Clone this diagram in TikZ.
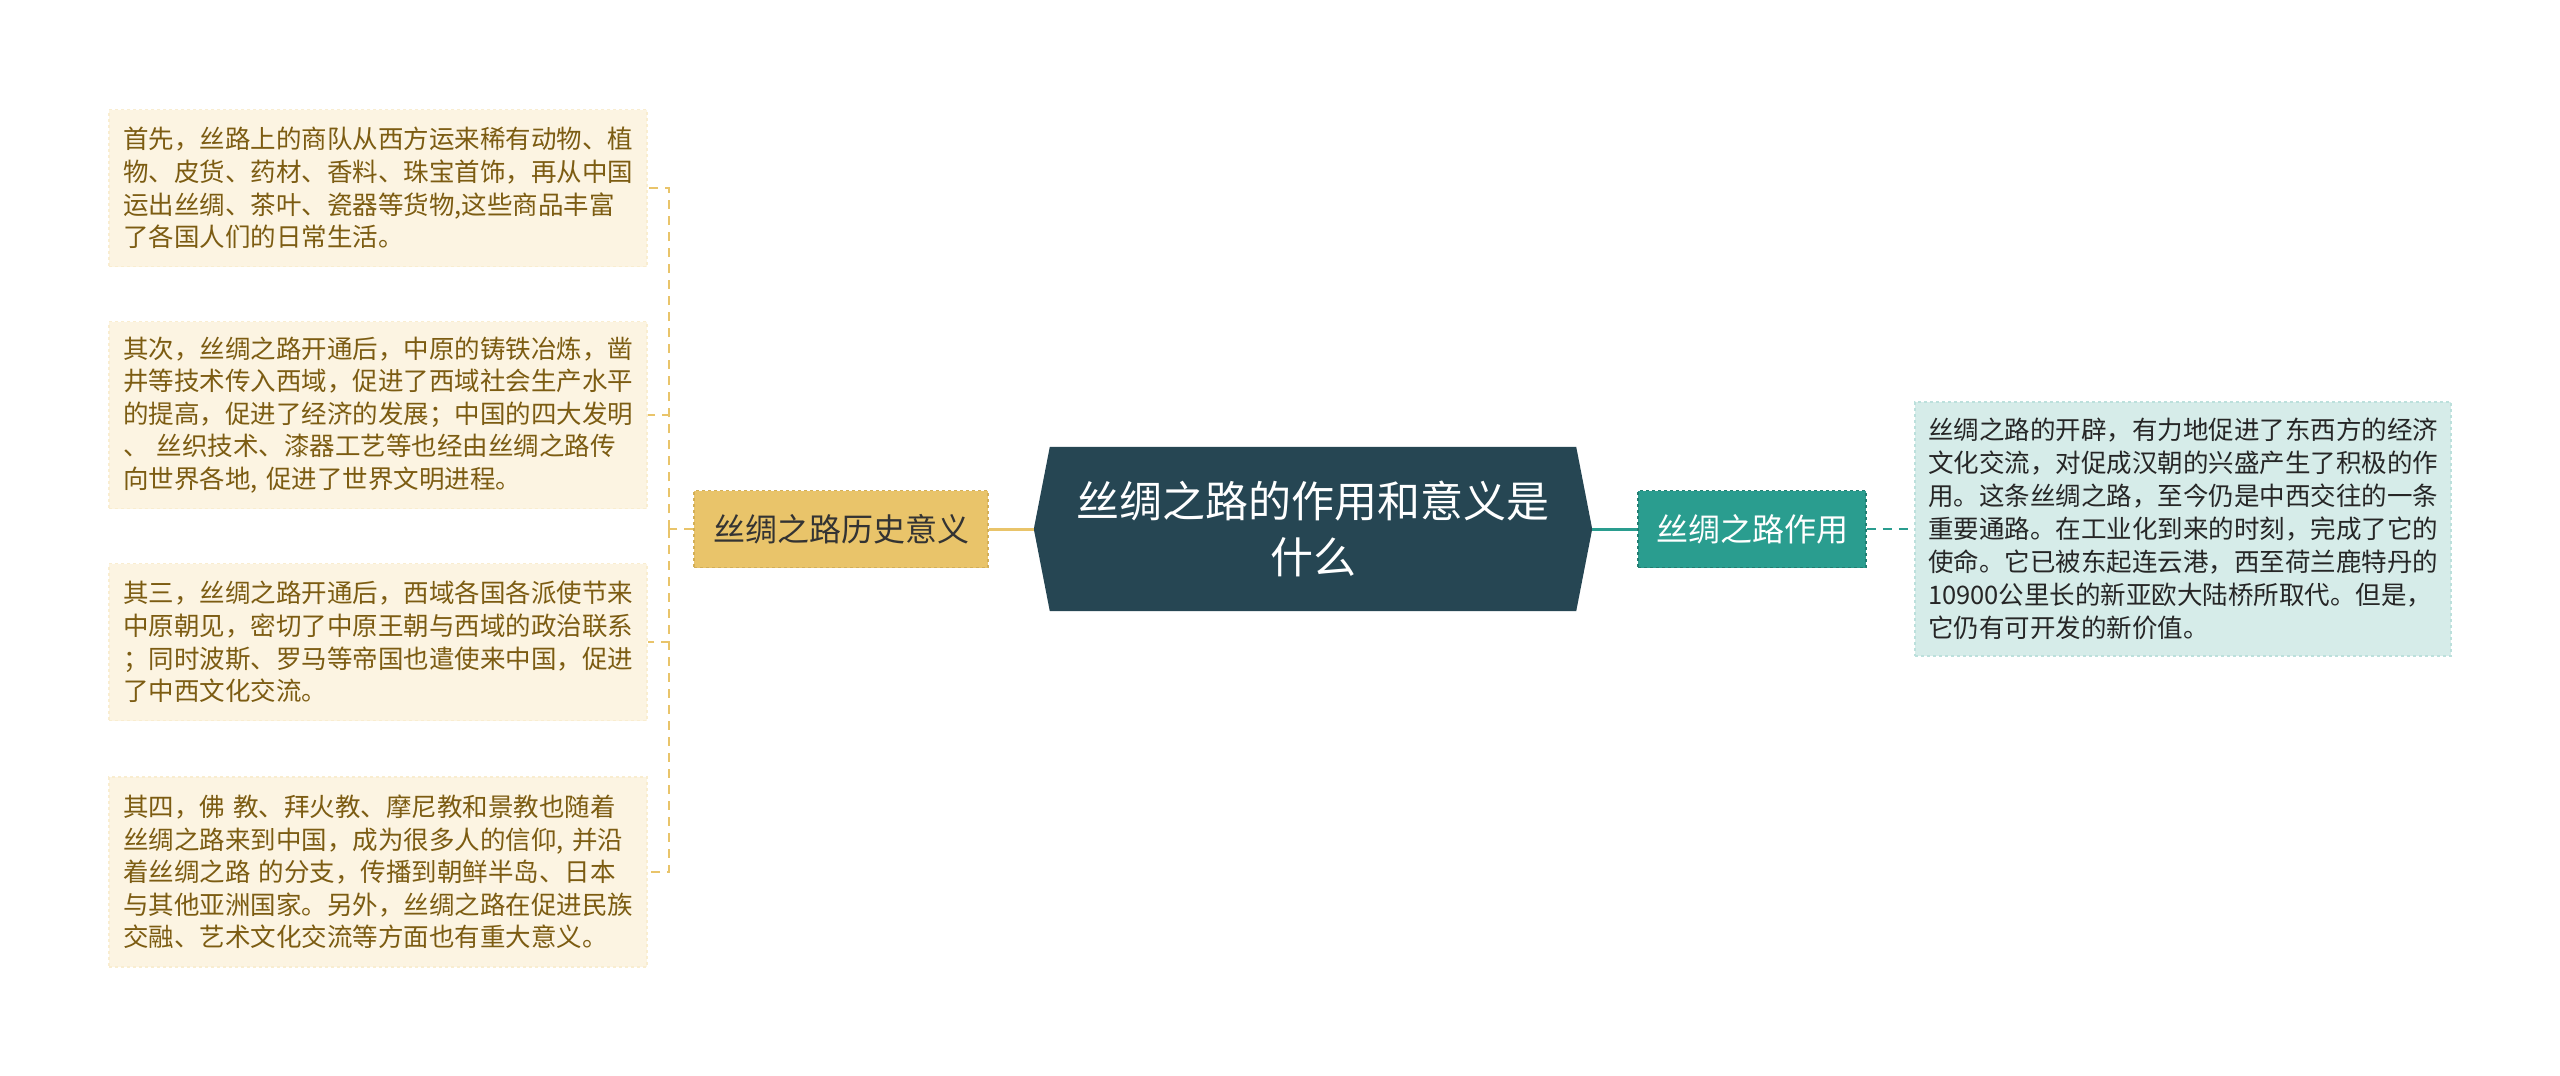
\documentclass[tikz,border=0pt]{standalone}
\usepackage{fontspec}
\setmainfont{Noto Sans CJK SC}
\usetikzlibrary{backgrounds}
\definecolor{slate}{RGB}{38,70,83}
\definecolor{gold}{RGB}{233,196,106}
\definecolor{teal}{RGB}{42,157,143}
\definecolor{cream}{RGB}{252,244,226}
\definecolor{mint}{RGB}{214,236,233}
\definecolor{brown}{RGB}{124,92,18}

\begin{document}
\begin{tikzpicture}[x=1pt,y=-1pt,
	leftbox/.style={fill=cream, draw=cream!85!gold, dashed, line width=1.5pt,
	   text=brown, align=left, text width=510pt, inner xsep=14pt,
	   font=\fontsize{25.5}{32.6}\selectfont},
	rightbox/.style={fill=mint, draw=mint!85!teal, dashed, line width=1.5pt,
	   text=black!85, align=left, text width=510pt, inner xsep=13pt,
	   minimum height=254pt, font=\fontsize{25.5}{33}\selectfont},
	sub/.style={draw, dashed, line width=1.5pt, inner sep=0pt,
	   font=\fontsize{32}{38}\selectfont, minimum height=77pt},
	link/.style={line width=2pt, dash pattern=on 9pt off 7pt}]
	\useasboundingbox (0,0) rectangle (2560,1076);

	% centre topic
	\node[text=white, align=center, minimum width=558pt, minimum height=164pt,
	   font=\fontsize{43}{55.5}\selectfont] (main) at (1313,529)
	   {丝绸之路的作用和意义是\\什么};
	\begin{scope}[on background layer]
		\fill[white] (0,0) rectangle (2560,1076);
		\fill[slate] ([xshift=16pt]main.north west) -- (main.west)
		   -- ([xshift=16pt]main.south west) -- ([xshift=-16pt]main.south east)
		   -- (main.east) -- ([xshift=-16pt]main.north east) -- cycle;
	\end{scope}

	% left branch
	\node[sub, fill=gold, draw=gold!80!brown, text=black!80, minimum width=294pt]
	   (hist) at (841,529) {丝绸之路历史意义};

	\node[leftbox, minimum height=157pt] (b1) at (378,188) {首先，丝路上的商队从西方运来稀有动物、植\\物、皮货、药材、香料、珠宝首饰，再从中国\\运出丝绸、茶叶、瓷器等货物,这些商品丰富\\了各国人们的日常生活。};
	\node[leftbox, minimum height=187pt] (b2) at (378,415) {其次，丝绸之路开通后，中原的铸铁冶炼，凿\\井等技术传入西域，促进了西域社会生产水平\\的提高，促进了经济的发展；中国的四大发明\\、 丝织技术、漆器工艺等也经由丝绸之路传\\向世界各地, 促进了世界文明进程。};
	\node[leftbox, minimum height=157pt] (b3) at (378,642) {其三，丝绸之路开通后，西域各国各派使节来\\中原朝见，密切了中原王朝与西域的政治联系\\；同时波斯、罗马等帝国也遣使来中国，促进\\了中西文化交流。};
	\node[leftbox, minimum height=190pt] (b4) at (378,872) {其四，佛 教、拜火教、摩尼教和景教也随着\\丝绸之路来到中国，成为很多人的信仰, 并沿\\着丝绸之路 的分支，传播到朝鲜半岛、日本\\与其他亚洲国家。另外，丝绸之路在促进民族\\交融、艺术文化交流等方面也有重大意义。};

	\coordinate (fork) at (669,529);
	\draw[gold, line width=3pt] (main.west) -- (hist.east);
	\draw[gold, link] (hist.west) -- (fork);
	\foreach \b in {b1,b2,b3,b4}
		\draw[gold, link] (fork) |- (\b.east);

	% right branch
	\node[sub, fill=teal, draw=teal!80!black, text=white, minimum width=228pt]
	   (act) at (1752,529) {丝绸之路作用};
	\node[rightbox, minimum width=536pt] (r1) at (2183,529) {丝绸之路的开辟，有力地促进了东西方的经济\\文化交流，对促成汉朝的兴盛产生了积极的作\\用。这条丝绸之路，至今仍是中西交往的一条\\重要通路。在工业化到来的时刻，完成了它的\\使命。它已被东起连云港，西至荷兰鹿特丹的\\10900公里长的新亚欧大陆桥所取代。但是，\\它仍有可开发的新价值。};

	\draw[teal, line width=3pt] (main.east) -- (act.west);
	\draw[teal, link] (act.east) -- (r1.west);
\end{tikzpicture}
\end{document}
